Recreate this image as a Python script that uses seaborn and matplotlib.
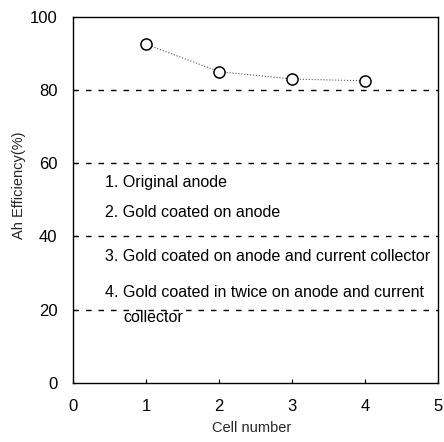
import matplotlib
matplotlib.use("Agg")
import matplotlib.pyplot as plt
import seaborn as sns
import pandas as pd

cells = [1, 2, 3, 4]
efficiency = [92.5, 85.0, 83.0, 82.5]
note_lines = [
    "1. Original anode",
    "2. Gold coated on anode",
    "3. Gold coated on anode and current collector",
    "4. Gold coated in twice on anode and current",
    "collector",
]
note_x = [0.43, 0.43, 0.43, 0.43, 0.68]
note_y = [54.6, 46.4, 34.4, 24.6, 17.8]
grid_levels = [20, 40, 60, 80]

sns.set_style("ticks")
plt.rcParams["font.family"] = ["Liberation Sans", "DejaVu Sans"]

df = pd.DataFrame({"cell": cells, "eff": efficiency})

fig = plt.figure(figsize=(4.44, 4.42), dpi=100)
ax = fig.add_axes([0.165, 0.134, 0.822, 0.828])

for lvl in grid_levels:
    ax.axhline(lvl, color="black", lw=1.0, ls=(0, (4, 5)), zorder=1)

sns.lineplot(data=df, x="cell", y="eff", ax=ax, color="#555555", lw=0.8,
             ls=":", marker="o", markersize=8, markerfacecolor="white",
             markeredgecolor="black", markeredgewidth=1.1, zorder=3)

ax.set_xlim(0, 5)
ax.set_ylim(0, 100)
ax.set_xticks([0, 1, 2, 3, 4, 5])
ax.set_yticks([0, 20, 40, 60, 80, 100])
ax.tick_params(direction="in", length=3, width=0.8, labelsize=12, colors="black")
ax.tick_params(axis="x", pad=12)
ax.tick_params(axis="y", pad=11.5)
for s in ax.spines.values():
    s.set_linewidth(1.0)
    s.set_color("black")

for txt, xv, yv in zip(note_lines, note_x, note_y):
    ax.text(xv, yv, txt, fontsize=11.5, ha="left", va="center", color="black")

ax.set_xlabel("Cell number", fontsize=10.5)
ax.set_ylabel("Ah Efficiency(%)", fontsize=10.5)
ax.xaxis.set_label_coords(0.49, -0.105)
ax.yaxis.set_label_coords(-0.13, 0.54)

fig.savefig("out.png", dpi=100)
